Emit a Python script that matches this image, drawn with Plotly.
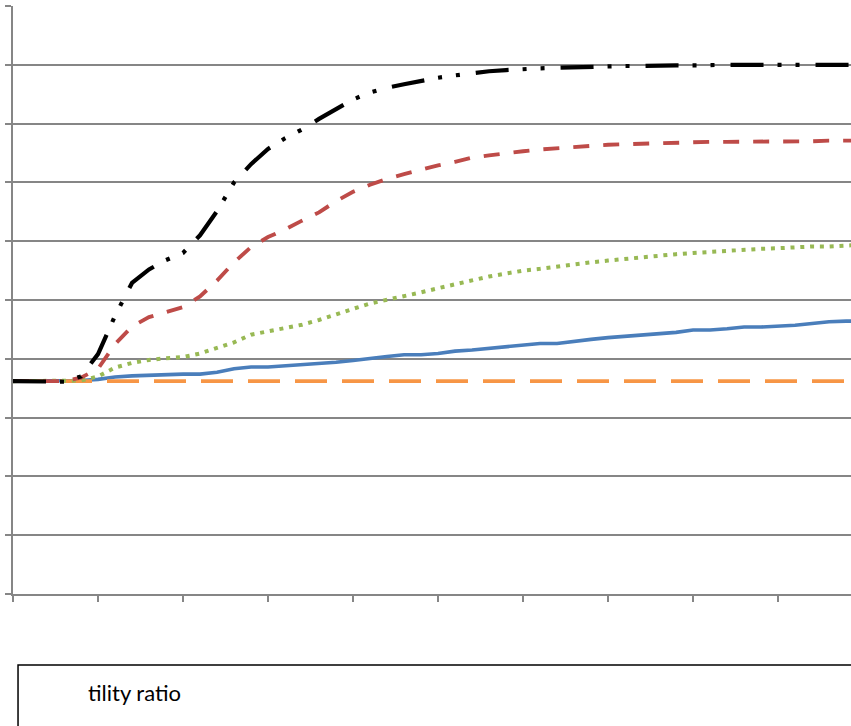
import plotly.graph_objects as go

# Step index along the horizontal axis (tick every 5 steps)
steps = list(range(51))

blue_solid = [3.62, 3.62, 3.62, 3.62, 3.63, 3.65, 3.69, 3.71, 3.72, 3.74,
              3.74, 3.74, 3.77, 3.83, 3.86, 3.86, 3.88, 3.89, 3.91, 3.94,
              3.97, 4.01, 4.04, 4.07, 4.07, 4.09, 4.13, 4.15, 4.18, 4.21,
              4.24, 4.26, 4.26, 4.30, 4.33, 4.36, 4.38, 4.40, 4.42, 4.45,
              4.49, 4.49, 4.51, 4.54, 4.54, 4.55, 4.57, 4.60, 4.63, 4.64,
              4.64]

orange_flat = [3.62] * 51

green_dotted = [3.62, 3.62, 3.62, 3.62, 3.63, 3.70, 3.85, 3.93, 3.98, 4.01,
                4.03, 4.09, 4.19, 4.28, 4.41, 4.47, 4.53, 4.58, 4.66, 4.76,
                4.85, 4.94, 5.00, 5.07, 5.13, 5.20, 5.27, 5.34, 5.40, 5.45,
                5.50, 5.53, 5.57, 5.61, 5.64, 5.67, 5.70, 5.73, 5.75, 5.78,
                5.80, 5.82, 5.84, 5.86, 5.87, 5.88, 5.90, 5.91, 5.91, 5.93,
                5.94]

red_dashed = [3.62, 3.62, 3.62, 3.62, 3.68, 3.83, 4.25, 4.55, 4.71, 4.80,
              4.88, 5.06, 5.33, 5.64, 5.90, 6.07, 6.20, 6.35, 6.49, 6.68,
              6.84, 6.96, 7.06, 7.14, 7.22, 7.29, 7.35, 7.42, 7.46, 7.50,
              7.53, 7.56, 7.58, 7.60, 7.63, 7.64, 7.65, 7.66, 7.67, 7.67,
              7.68, 7.69, 7.69, 7.69, 7.69, 7.70, 7.70, 7.70, 7.71, 7.71,
              7.71]

black_dashdot = [3.62, 3.62, 3.62, 3.61, 3.70, 4.08, 4.73, 5.29, 5.52, 5.68,
                 5.80, 6.10, 6.51, 7.00, 7.31, 7.57, 7.75, 7.90, 8.08, 8.25,
                 8.41, 8.53, 8.61, 8.67, 8.73, 8.78, 8.82, 8.86, 8.89, 8.91,
                 8.93, 8.94, 8.95, 8.96, 8.97, 8.98, 8.98, 8.98, 8.99, 8.99,
                 8.99, 9.00, 9.00, 9.00, 9.00, 9.00, 9.00, 9.00, 9.00, 9.00,
                 9.00]

legend_text = "tility ratio"

GRID = "#868686"

fig = go.Figure()

series = [
    (blue_solid, "#4a7ebb", "solid", 3.6),
    (orange_flat, "#f79646", "32px,15px", 3.6),
    (green_dotted, "#98b954", "4px,5.8px", 4),
    (red_dashed, "#be4b48", "16px,14px", 3.9),
    (black_dashdot, "#000000", "33px,14px,4px,14px,4px,16px", 4.2),
]

for values, color, dash, width in series:
    fig.add_trace(go.Scatter(
        x=steps, y=values, mode="lines",
        line=dict(color=color, dash=dash, width=width),
        showlegend=False, hoverinfo="skip", cliponaxis=True,
    ))

fig.update_xaxes(
    range=[0, 49.29], dtick=5, tick0=0,
    showgrid=False, zeroline=False, showticklabels=False,
    showline=True, linecolor=GRID, linewidth=1.5,
    ticks="outside", ticklen=6, tickwidth=1.5, tickcolor=GRID,
)
fig.update_yaxes(
    range=[0, 10], dtick=1, tick0=0,
    showgrid=True, gridcolor=GRID, gridwidth=1.5,
    zeroline=False, showticklabels=False,
    showline=True, linecolor=GRID, linewidth=1.5,
    ticks="outside", ticklen=6, tickwidth=1.5, tickcolor=GRID,
)

# Legend frame below the plot, running off the lower right edge
fig.add_shape(
    type="rect", xref="paper", yref="paper",
    x0=0.006, x1=1.05, y0=-0.1207, y1=-0.40,
    line=dict(color="#000000", width=1.5), fillcolor="rgba(0,0,0,0)",
)
fig.add_annotation(
    text=legend_text, xref="paper", yref="paper",
    x=0.0875, y=-0.167, xanchor="left", yanchor="middle",
    showarrow=False, font=dict(family="Lato", size=22, color="#000000"),
)

fig.update_layout(
    width=851, height=726,
    margin=dict(l=13, r=0, t=6, b=132, pad=0),
    paper_bgcolor="white", plot_bgcolor="white",
)

fig.write_html("out.html")
